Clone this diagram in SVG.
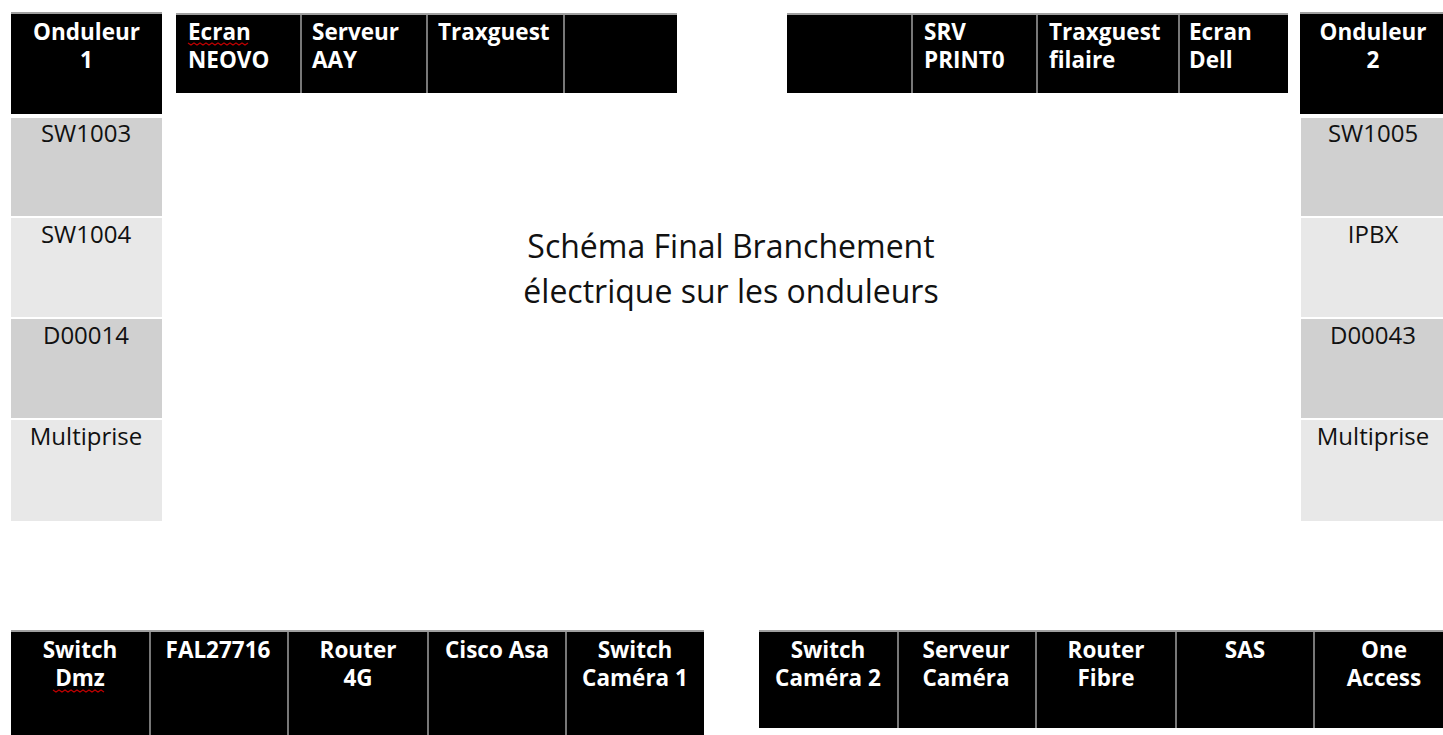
<svg xmlns="http://www.w3.org/2000/svg" width="1443" height="735" viewBox="0 0 1443 735">
<style>
.blk{fill:#000;}
.top{stroke:#7f7f7f;stroke-width:1.5;}
.div{stroke:#c8c8c8;stroke-width:1.2;}
.g1{fill:#d0d0d0;}
.g2{fill:#e8e8e8;}
.hb{font-family:"Open Sans","Liberation Sans",sans-serif;font-weight:bold;font-size:22.5px;fill:#fff;}
.c{text-anchor:middle;}
.rt{font-family:"Open Sans","Liberation Sans",sans-serif;font-size:24px;fill:#111;text-anchor:middle;}
.title{font-family:"Open Sans","Liberation Sans",sans-serif;font-size:32px;fill:#111;text-anchor:middle;}
.sq{fill:none;stroke:#c00000;stroke-width:1.2;}
</style>
<rect width="1443" height="735" fill="#fff"/>

<!-- Onduleur 1 column -->
<g id="onduleur1">
<line class="top" x1="11" y1="13" x2="162" y2="13"/>
<rect class="blk" x="11" y="14" width="151" height="100"/>
<text class="hb c" x="86.5" y="40">Onduleur</text>
<text class="hb c" x="86.5" y="68">1</text>
</g>
<g id="sw1003"><rect class="g1" x="11" y="118" width="151" height="98"/><text class="rt" x="86" y="142">SW1003</text></g>
<g id="sw1004"><rect class="g2" x="11" y="218" width="151" height="99"/><text class="rt" x="86" y="243">SW1004</text></g>
<g id="d00014"><rect class="g1" x="11" y="319" width="151" height="99"/><text class="rt" x="86" y="344">D00014</text></g>
<g id="multiprise1"><rect class="g2" x="11" y="420" width="151" height="101"/><text class="rt" x="86" y="445">Multiprise</text></g>

<!-- Onduleur 2 column -->
<g id="onduleur2">
<line class="top" x1="1300" y1="13" x2="1443" y2="13"/>
<rect class="blk" x="1300" y="14" width="143" height="100"/>
<text class="hb c" x="1373" y="40">Onduleur</text>
<text class="hb c" x="1373" y="68">2</text>
</g>
<g id="sw1005"><rect class="g1" x="1301" y="118" width="142" height="98"/><text class="rt" x="1373" y="142">SW1005</text></g>
<g id="ipbx"><rect class="g2" x="1301" y="218" width="142" height="99"/><text class="rt" x="1373" y="243">IPBX</text></g>
<g id="d00043"><rect class="g1" x="1301" y="319" width="142" height="99"/><text class="rt" x="1373" y="344">D00043</text></g>
<g id="multiprise2"><rect class="g2" x="1301" y="420" width="142" height="101"/><text class="rt" x="1373" y="445">Multiprise</text></g>

<!-- Top left row -->
<g id="row-top-left">
<line class="top" x1="176" y1="14" x2="677" y2="14"/>
<rect class="blk" x="176" y="15" width="501" height="78"/>
<line class="div" x1="301" y1="15" x2="301" y2="93"/>
<line class="div" x1="427" y1="15" x2="427" y2="93"/>
<line class="div" x1="564" y1="15" x2="564" y2="93"/>
</g>
<g id="ecran-neovo"><text class="hb" x="188" y="40">Ecran</text><text class="hb" x="188" y="68">NEOVO</text>
<path class="sq" d="M188,43 l3,2 l3,-2 l3,2 l3,-2 l3,2 l3,-2 l3,2 l3,-2 l3,2 l3,-2 l3,2 l3,-2 l3,2 l3,-2 l3,2 l3,-2 l3,2 l3,-2 l3,2 l3,-2"/></g>
<g id="serveur-aay"><text class="hb" x="312" y="40">Serveur</text><text class="hb" x="312" y="68">AAY</text></g>
<g id="traxguest"><text class="hb" x="438" y="40">Traxguest</text></g>
<g id="empty-top-left"></g>

<!-- Top right row -->
<g id="row-top-right">
<line class="top" x1="787" y1="14" x2="1288" y2="14"/>
<rect class="blk" x="787" y="15" width="501" height="78"/>
<line class="div" x1="912" y1="15" x2="912" y2="93"/>
<line class="div" x1="1037" y1="15" x2="1037" y2="93"/>
<line class="div" x1="1179" y1="15" x2="1179" y2="93"/>
</g>
<g id="empty-top-right"></g>
<g id="srv-print0"><text class="hb" x="924" y="40">SRV</text><text class="hb" x="924" y="68">PRINT0</text></g>
<g id="traxguest-filaire"><text class="hb" x="1049" y="40">Traxguest</text><text class="hb" x="1049" y="68">filaire</text></g>
<g id="ecran-dell"><text class="hb" x="1189" y="40">Ecran</text><text class="hb" x="1189" y="68">Dell</text></g>

<!-- Title -->
<g id="title">
<text class="title" x="731" y="258">Schéma Final Branchement</text>
<text class="title" x="731" y="303">électrique sur les onduleurs</text>
</g>

<!-- Bottom left row -->
<g id="row-bottom-left">
<line class="top" x1="11" y1="631" x2="704" y2="631"/>
<rect class="blk" x="11" y="632" width="693" height="103"/>
<line class="div" x1="150" y1="632" x2="150" y2="735"/>
<line class="div" x1="288" y1="632" x2="288" y2="735"/>
<line class="div" x1="428" y1="632" x2="428" y2="735"/>
<line class="div" x1="566" y1="632" x2="566" y2="735"/>
</g>
<g id="switch-dmz"><text class="hb c" x="80" y="658">Switch</text><text class="hb c" x="80" y="686">Dmz</text>
<path class="sq" d="M53,690 l3,2 l3,-2 l3,2 l3,-2 l3,2 l3,-2 l3,2 l3,-2 l3,2 l3,-2 l3,2 l3,-2 l3,2 l3,-2 l3,2 l3,-2 l3,2"/></g>
<g id="fal27716"><text class="hb c" x="218" y="658">FAL27716</text></g>
<g id="router-4g"><text class="hb c" x="358" y="658">Router</text><text class="hb c" x="358" y="686">4G</text></g>
<g id="cisco-asa"><text class="hb c" x="497" y="658">Cisco Asa</text></g>
<g id="switch-camera1"><text class="hb c" x="635" y="658">Switch</text><text class="hb c" x="635" y="686">Caméra 1</text></g>

<!-- Bottom right row -->
<g id="row-bottom-right">
<line class="top" x1="759" y1="631" x2="1443" y2="631"/>
<rect class="blk" x="759" y="632" width="684" height="96"/>
<line class="div" x1="898" y1="632" x2="898" y2="728"/>
<line class="div" x1="1036" y1="632" x2="1036" y2="728"/>
<line class="div" x1="1176" y1="632" x2="1176" y2="728"/>
<line class="div" x1="1314" y1="632" x2="1314" y2="728"/>
</g>
<g id="switch-camera2"><text class="hb c" x="828" y="658">Switch</text><text class="hb c" x="828" y="686">Caméra 2</text></g>
<g id="serveur-camera"><text class="hb c" x="966" y="658">Serveur</text><text class="hb c" x="966" y="686">Caméra</text></g>
<g id="router-fibre"><text class="hb c" x="1106" y="658">Router</text><text class="hb c" x="1106" y="686">Fibre</text></g>
<g id="sas"><text class="hb c" x="1245" y="658">SAS</text></g>
<g id="one-access"><text class="hb c" x="1384" y="658">One</text><text class="hb c" x="1384" y="686">Access</text></g>
</svg>
